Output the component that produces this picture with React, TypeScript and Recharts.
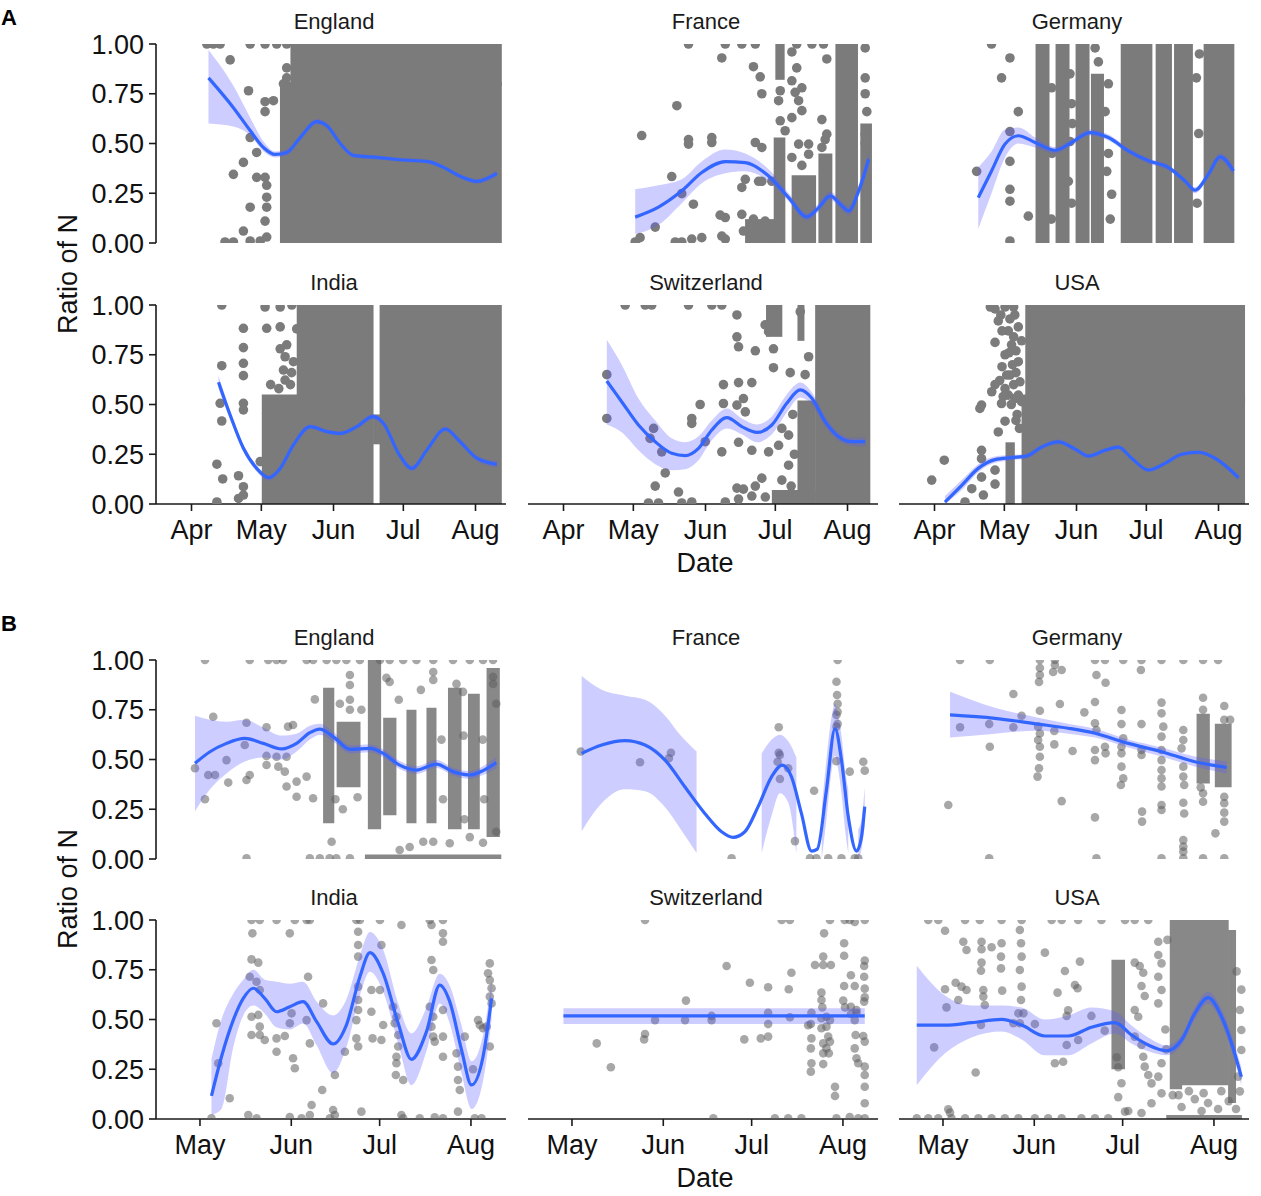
import React from "react";
import { ComposedChart, XAxis, YAxis, Scatter, Line, Area, ReferenceArea } from "recharts";

const FONT = '"Liberation Sans", Arial, Helvetica, sans-serif';

// x values are day of year 2020 (Apr 1 = 92, May 1 = 122, Jun 1 = 153, Jul 1 = 183, Aug 1 = 214)
const ticksA = [92, 122, 153, 183, 214];
const namesA = ["Apr", "May", "Jun", "Jul", "Aug"];
const ticksB = [122, 153, 183, 214];
const namesB = ["May", "Jun", "Jul", "Aug"];
const yTicks = [0, 0.25, 0.5, 0.75, 1];

type Pt = [number, number];
type BandPt = [number, number, number];
type Block = [number, number, number, number];

// ---------- Panel A ----------
const engA_fit: Pt[] = [[99.3,0.83],[110.0,0.68],[117.2,0.565],[122.9,0.48],[127.9,0.445],[132.9,0.455],[138.7,0.53],[145.8,0.61],[150.1,0.59],[155.9,0.5],[161.6,0.44],[171.6,0.43],[183.1,0.417],[193.1,0.41],[200.3,0.38],[207.4,0.335],[214.6,0.31],[223.2,0.35]];
const engA_band: BandPt[][] = [[[99.3,0.6,0.97],[110.0,0.585,0.79],[117.2,0.54,0.63],[122.9,0.46,0.51],[127.9,0.43,0.46],[132.9,0.44,0.47],[138.7,0.515,0.545],[145.8,0.597,0.623],[150.1,0.577,0.603],[155.9,0.49,0.51],[161.6,0.43,0.45],[171.6,0.42,0.44],[183.1,0.407,0.427],[193.1,0.4,0.42],[200.3,0.37,0.39],[207.4,0.324,0.346],[214.6,0.298,0.322],[223.2,0.335,0.365]]];
const engA_pts: Pt[] = [[98.6,1],[101.4,1],[104.3,1],[117.2,1],[123.6,1],[128.6,1],[132.9,1],[108.6,0.92],[116.5,0.765],[123.6,0.71],[127.2,0.715],[123.6,0.66],[132.9,0.88],[132.9,0.83],[137.2,0.95],[131.5,0.8],[117.2,0.53],[120.0,0.455],[114.3,0.405],[110.0,0.345],[120.0,0.33],[123.6,0.33],[124.3,0.23],[117.2,0.18],[123.6,0.11],[114.3,0.06],[106.4,0.005],[110.0,0.005],[117.2,0.01],[121.5,0.01],[124.3,0.03],[124.3,0.18],[124.3,0.29]];
const engA_dense: Block[] = [[130.0,225.3,0,0.81],[134.5,225.3,0.79,1]];

const fraA_fit: Pt[] = [[122.8,0.13],[132.8,0.18],[142.8,0.262],[151.4,0.354],[161.5,0.409],[170.1,0.404],[180.1,0.337],[188.7,0.228],[196.6,0.131],[201.6,0.178],[206.6,0.237],[210.9,0.195],[214.5,0.161],[218.8,0.262],[223.1,0.421]];
const fraA_band: BandPt[][] = [[[122.8,0.045,0.27],[132.8,0.09,0.29],[142.8,0.2,0.32],[151.4,0.3,0.41],[161.5,0.35,0.47],[170.1,0.36,0.45],[180.1,0.31,0.37],[188.7,0.21,0.25],[196.6,0.113,0.15],[201.6,0.158,0.198],[206.6,0.217,0.257],[210.9,0.175,0.215],[214.5,0.14,0.185],[218.8,0.235,0.29],[223.1,0.38,0.46]]];
const fraA_pts: Pt[] = [[145.7,1],[161.5,1],[168.6,1],[174.4,1],[160.0,0.93],[173.6,0.886],[176.5,0.835],[177.2,0.75],[140.7,0.69],[125.6,0.54],[145.7,0.52],[145.7,0.497],[155.7,0.53],[155.7,0.505],[174.4,0.505],[177.2,0.48],[138.5,0.334],[142.8,0.248],[147.8,0.195],[168.6,0.279],[170.1,0.32],[177.2,0.31],[159.3,0.14],[161.5,0.128],[168.6,0.144],[131.4,0.08],[124.9,0.027],[122.8,0.005],[140.0,0.005],[142.8,0.005],[147.1,0.02],[151.4,0.027],[160.0,0.035],[161.5,0.02],[169.3,0.06],[173.6,0.12],[190.1,0.96],[192.2,0.88],[190.1,0.815],[191.5,0.757],[194.4,0.78],[193.0,0.715],[194.4,0.665],[190.1,0.63],[197.3,0.497],[193.0,0.497],[190.1,0.43],[197.3,0.446],[194.4,0.39],[198.7,1],[192.2,1],[203.7,1],[205.1,0.925],[203.0,0.62],[204.4,0.52],[203.0,0.48],[205.1,0.547],[221.6,0.98],[221.6,0.83],[221.6,0.75],[222.3,0.66],[221.6,0.547],[221.6,0.5],[184.4,0.715],[185.1,0.765],[185.1,0.614],[187.2,0.564],[175.8,0.31],[181.5,0.31],[178.6,0.11]];
const fraA_dense: Block[] = [[182.3,187.3,0,0.53],[183.0,187.0,0.82,1],[190.0,200.5,0,0.34],[201.5,207.5,0,0.45],[208.8,218.5,0,1],[219.5,224.5,0,0.6],[170.0,182.5,0,0.12]];

const gerA_fit: Pt[] = [[110.8,0.228],[116.5,0.362],[122.3,0.497],[128.0,0.539],[135.2,0.505],[143.8,0.466],[150.9,0.505],[158.8,0.555],[166.7,0.53],[175.3,0.463],[183.9,0.413],[192.5,0.379],[199.6,0.312],[203.9,0.265],[209.7,0.346],[214.7,0.433],[220.4,0.362]];
const gerA_band: BandPt[][] = [[[110.8,0.07,0.38],[116.5,0.25,0.46],[122.3,0.43,0.57],[128.0,0.5,0.58],[135.2,0.48,0.53],[143.8,0.45,0.482],[150.9,0.49,0.52],[158.8,0.54,0.57],[166.7,0.515,0.545],[175.3,0.45,0.476],[183.9,0.4,0.426],[192.5,0.366,0.392],[199.6,0.298,0.326],[203.9,0.25,0.28],[209.7,0.33,0.362],[214.7,0.415,0.451],[220.4,0.34,0.384]]];
const gerA_pts: Pt[] = [[116.5,1],[124.4,0.93],[120.8,0.83],[128.0,0.66],[124.4,0.56],[110.1,0.36],[124.4,0.41],[124.4,0.27],[124.4,0.21],[132.3,0.135],[124.4,0.01],[150.2,0.85],[150.9,0.7],[150.2,0.51],[149.5,0.31],[150.9,0.2],[151.2,0.6],[142.3,0.78],[142.5,0.45],[142.2,0.12],[161.0,0.98],[162.4,0.91],[166.7,0.8],[165.3,0.66],[166.7,0.45],[166.0,0.36],[168.1,0.245],[167.5,0.12],[204.5,0.83],[205.5,0.55],[204.8,0.2],[205.8,0.95]];
const gerA_dense: Block[] = [[135.4,141.4,0,1],[144.0,150.0,0,1],[152.6,158.6,0,1],[159.2,164.8,0,0.85],[172.0,185.6,0,1],[187.0,194.0,0,1],[194.9,203.0,0,1],[207.6,220.8,0,1]];

const indA_fit: Pt[] = [[103.6,0.612],[108.6,0.447],[114.3,0.28],[120.0,0.179],[125.1,0.132],[130.1,0.179],[135.8,0.297],[143.0,0.389],[150.1,0.364],[155.9,0.355],[163.0,0.389],[169.9,0.439],[174.5,0.405],[180.9,0.255],[186.7,0.179],[193.1,0.271],[201.0,0.377],[207.4,0.313],[214.6,0.23],[223.2,0.199]];
const indA_band: BandPt[][] = [[[103.6,0.58,0.645],[108.6,0.425,0.47],[114.3,0.262,0.298],[120.0,0.163,0.195],[125.1,0.118,0.146],[130.1,0.166,0.192],[135.8,0.285,0.309],[143.0,0.378,0.4],[150.1,0.353,0.375],[155.9,0.344,0.366],[163.0,0.378,0.4],[169.9,0.426,0.452],[174.5,0.392,0.418],[180.9,0.243,0.267],[186.7,0.166,0.192],[193.1,0.259,0.283],[201.0,0.364,0.39],[207.4,0.301,0.325],[214.6,0.217,0.243],[223.2,0.182,0.216]]];
const indA_pts: Pt[] = [[105.0,1],[123.6,0.99],[130.1,0.99],[135.1,1],[114.3,0.883],[124.3,0.883],[130.1,0.89],[114.3,0.786],[114.3,0.707],[114.3,0.645],[130.1,0.78],[132.2,0.74],[105.0,0.695],[131.5,0.673],[132.2,0.623],[114.3,0.506],[114.3,0.473],[104.3,0.506],[105.0,0.417],[124.3,0.456],[121.5,0.213],[102.9,0.2],[105.4,0.126],[112.2,0.142],[114.3,0.087],[114.3,0.045],[112.2,0.028],[102.9,0.01],[135.8,0.715],[132.9,0.8],[137.2,0.88],[126.0,0.6],[129.5,0.58],[134.5,0.6],[135.0,0.66]];
const indA_dense: Block[] = [[122.2,137.4,0,0.55],[137.2,170.2,0,1],[172.8,225.3,0,1],[170.0,173.0,0.3,0.45]];

const swiA_fit: Pt[] = [[110.6,0.618],[117.0,0.514],[124.2,0.397],[131.4,0.313],[138.5,0.255],[144.3,0.243],[150.0,0.28],[155.7,0.372],[162.2,0.434],[168.6,0.389],[175.1,0.36],[181.5,0.397],[187.9,0.506],[193.7,0.573],[198.7,0.531],[204.4,0.414],[210.2,0.338],[215.9,0.313],[221.6,0.313]];
const swiA_band: BandPt[][] = [[[110.6,0.4,0.825],[117.0,0.36,0.7],[124.2,0.27,0.53],[131.4,0.2,0.42],[138.5,0.17,0.33],[144.3,0.175,0.31],[150.0,0.22,0.34],[155.7,0.32,0.42],[162.2,0.38,0.48],[168.6,0.35,0.43],[175.1,0.31,0.4],[181.5,0.35,0.44],[187.9,0.46,0.55],[193.7,0.535,0.61],[198.7,0.5,0.56],[204.4,0.39,0.44],[210.2,0.318,0.358],[215.9,0.293,0.333],[221.6,0.29,0.336]]];
const swiA_pts: Pt[] = [[118.5,1],[127.1,1],[129.9,1],[145.7,1],[155.7,1],[160.0,1],[166.5,0.95],[166.5,0.84],[167.2,0.79],[174.4,0.77],[182.2,0.78],[182.2,0.685],[189.4,0.66],[195.8,0.65],[197.3,0.74],[160.7,0.6],[167.2,0.61],[172.9,0.61],[150.7,0.5],[160.7,0.505],[166.5,0.497],[169.3,0.53],[170.1,0.463],[147.1,0.43],[147.1,0.405],[110.6,0.65],[110.6,0.43],[130.7,0.38],[129.2,0.33],[134.2,0.262],[135.7,0.156],[152.9,0.313],[160.0,0.262],[167.2,0.31],[172.9,0.27],[180.1,0.262],[184.4,0.295],[185.8,0.38],[188.7,0.346],[177.2,0.13],[185.8,0.12],[188.7,0.195],[131.4,0.09],[141.4,0.06],[166.5,0.08],[169.3,0.075],[174.4,0.09],[128.5,0.005],[132.8,0.005],[142.8,0.005],[147.1,0.01],[161.5,0.01],[167.2,0.025],[172.9,0.04],[178.7,0.035],[181.5,0.966],[178.6,0.9],[180.1,0.866],[193.7,0.966],[190.5,0.45],[191.2,0.25],[189.8,0.09]];
const swiA_dense: Block[] = [[200.1,223.8,0,1],[192.5,200.3,0,0.52],[179.0,186.0,0.84,1],[192.5,195.5,0.82,1],[181.5,200.3,0,0.07]];

const usaA_fit: Pt[] = [[96.5,0.01],[103.7,0.094],[110.8,0.179],[118.0,0.223],[125.1,0.233],[131.6,0.241],[138.0,0.286],[145.2,0.312],[152.4,0.276],[158.1,0.241],[165.3,0.27],[171.0,0.286],[176.7,0.23],[183.9,0.171],[191.0,0.204],[198.2,0.25],[205.4,0.26],[212.5,0.23],[222.6,0.132]];
const usaA_band: BandPt[][] = [[[96.5,0,0.04],[103.7,0.07,0.12],[110.8,0.16,0.2],[118.0,0.207,0.239],[125.1,0.22,0.246],[131.6,0.229,0.253],[138.0,0.274,0.298],[145.2,0.3,0.324],[152.4,0.264,0.288],[158.1,0.23,0.252],[165.3,0.259,0.281],[171.0,0.275,0.297],[176.7,0.22,0.24],[183.9,0.161,0.181],[191.0,0.194,0.214],[198.2,0.24,0.26],[205.4,0.25,0.27],[212.5,0.22,0.24],[222.6,0.118,0.146]]];
const usaA_pts: Pt[] = [[90.8,0.12],[96.2,0.22],[118.0,0.812],[116.6,0.564],[112.2,0.497],[111.5,0.48],[120.8,0.505],[122.3,0.416],[119.4,0.362],[112.2,0.27],[112.2,0.228],[112.2,0.135],[113.0,0.045],[118.0,0.17],[118.0,0.1],[108.0,0.077],[105.1,0.01],[123.0,0.648],[123.7,0.547],[128.0,0.547],[118.0,0.98],[122.3,0.99],[119.4,0.92],[124.4,0.93],[123.7,0.87],[128.0,0.89],[125.1,0.8],[129.4,0.82],[122.3,0.75],[128.0,0.715],[124.4,0.648],[128.7,0.614],[129.4,0.514],[122.3,0.58],[116.0,0.99],[126.0,0.99],[120.5,0.95],[126.5,0.95],[121.0,0.87],[126.0,0.84],[127.0,0.77],[124.0,0.76],[125.5,0.7],[121.0,0.69],[127.0,0.66],[126.0,0.6],[120.0,0.62],[126.5,0.53],[118.0,0.6],[121.5,0.54],[125.0,0.5],[127.5,0.45],[128.5,0.38],[127.0,0.42]];
const usaA_dense: Block[] = [[129.4,225.4,0,0.55],[131.0,225.4,0.5,1],[122.5,126.5,0,0.31]];

// ---------- Panel B ----------
const engB_fit: Pt[] = [[120.3,0.481],[125.4,0.539],[131.0,0.581],[137.2,0.606],[143.5,0.581],[149.7,0.553],[154.8,0.581],[159.3,0.635],[162.7,0.653],[167.2,0.615],[172.9,0.551],[179.7,0.556],[184.2,0.531],[189.8,0.472],[195.5,0.447],[202.3,0.477],[207.9,0.439],[213.6,0.422],[218.1,0.444],[222.6,0.484]];
const engB_band: BandPt[][] = [[[120.3,0.24,0.72],[125.4,0.35,0.7],[131.0,0.43,0.69],[137.2,0.49,0.7],[143.5,0.51,0.66],[149.7,0.5,0.62],[154.8,0.54,0.63],[159.3,0.6,0.67],[162.7,0.625,0.68],[167.2,0.59,0.64],[172.9,0.53,0.572],[179.7,0.536,0.576],[184.2,0.511,0.551],[189.8,0.452,0.492],[195.5,0.427,0.467],[202.3,0.457,0.497],[207.9,0.419,0.459],[213.6,0.402,0.442],[218.1,0.422,0.466],[222.6,0.455,0.513]]];
const engB_pts: Pt[] = [[123.7,1],[138.9,1],[145.2,1],[148.0,1],[150.2,1],[158.2,1],[160.4,1],[165.0,1],[168.3,1],[171.7,1],[176.3,1],[183.1,1],[186.4,1],[191.0,1],[195.5,1],[201.2,1],[207.9,1],[213.6,1],[218.1,1],[221.5,1],[126.5,0.715],[137.8,0.685],[131.0,0.497],[137.2,0.573],[144.6,0.662],[144.6,0.518],[144.6,0.472],[148.0,0.514],[151.4,0.514],[151.9,0.665],[153.6,0.673],[120.3,0.456],[124.8,0.422],[127.1,0.422],[123.7,0.3],[131.6,0.384],[137.8,0.397],[138.9,0.422],[148.6,0.464],[150.8,0.439],[151.4,0.364],[154.8,0.313],[160.4,0.305],[154.8,0.389],[158.2,0.414],[161.0,0.802],[172.9,0.925],[172.9,0.874],[172.9,0.8],[172.9,0.75],[166.7,0.087],[137.8,0.003],[159.3,0.003],[162.7,0.003],[166.0,0.003],[168.3,0.003],[172.9,0.003],[201.2,0.9],[201.2,0.94],[209.1,0.88],[211.3,0.84],[221.5,0.916],[221.5,0.88],[222.6,0.78],[197.8,0.087],[201.2,0.087],[189.8,0.045],[193.2,0.06],[206.8,0.079],[213.6,0.11],[218.1,0.082],[222.6,0.137],[186.4,0.89],[185.3,0.91],[168.0,0.3],[170.5,0.25],[175.5,0.31],[176.8,0.75],[169.5,0.78],[189.5,0.8],[197.0,0.85],[204.5,0.3],[211.8,0.2],[218.5,0.3],[204.0,0.6],[211.5,0.62],[218.0,0.6]];
const engB_dense: Block[] = [[163.8,167.6,0.18,0.86],[168.4,176.5,0.36,0.69],[179.0,183.5,0.15,1],[184.2,188.7,0.22,0.71],[192.1,195.5,0.18,0.75],[198.9,202.3,0.18,0.76],[206.2,210.8,0.15,0.86],[213.0,217.0,0.15,0.83],[219.3,223.8,0.11,0.96],[178.0,224.3,0,0.022]];

const fraB_fit: Pt[] = [[125.3,0.531],[132.1,0.573],[140.0,0.595],[146.8,0.573],[153.6,0.497],[160.3,0.363],[167.1,0.229],[172.8,0.137],[176.7,0.109],[180.7,0.137],[185.2,0.263],[189.8,0.414],[193.4,0.472],[196.5,0.414],[199.9,0.229],[203.3,0.04],[205.3,0.05],[208.4,0.347],[211.3,0.655],[213.5,0.497],[215.8,0.213],[218.6,0.04],[220.3,0.112],[221.4,0.263]];
const fraB_band: BandPt[][] = [
  [[125.3,0.14,0.92],[132.1,0.28,0.85],[140.0,0.35,0.82],[146.8,0.34,0.8],[153.6,0.26,0.72],[158.9,0.15,0.62],[164.3,0.03,0.54]],
  [[186.4,0.03,0.53],[189.8,0.22,0.6],[192.6,0.33,0.625],[195.5,0.28,0.59],[198.2,0.03,0.51]],
  [[206.8,0.0,0.25],[208.4,0.2,0.5],[210.2,0.45,0.72],[211.3,0.52,0.78],[212.4,0.45,0.72],[213.5,0.33,0.62],[214.7,0.15,0.45],[215.8,0.03,0.35]],
  [[219.2,0.0,0.15],[220.3,0.05,0.2],[221.4,0.17,0.36]],
];
const fraB_pts: Pt[] = [[125.0,0.54],[145.1,0.486],[155.6,0.534],[154.9,0.506],[176.2,0.003],[192.2,0.662],[192.2,0.534],[192.6,0.523],[191.8,0.489],[192.6,0.402],[195.4,0.456],[197.7,0.09],[204.2,0.343],[212.2,1],[211.8,0.891],[212.0,0.824],[212.2,0.78],[212.2,0.74],[211.8,0.724],[212.2,0.68],[211.8,0.665],[211.8,0.492],[216.3,0.439],[220.9,0.489],[221.4,0.444],[202.8,0.003],[205.0,0.003],[209.0,0.003],[213.5,0.003],[218.0,0.003],[219.2,0.003]];
const fraB_dense: Block[] = [];

const gerB_fit: Pt[] = [[124.4,0.724],[139.6,0.707],[154.3,0.678],[164.5,0.657],[173.6,0.632],[184.9,0.581],[196.2,0.539],[207.5,0.489],[218.3,0.46]];
const gerB_band: BandPt[][] = [[[124.4,0.61,0.84],[139.6,0.63,0.76],[154.3,0.645,0.71],[164.5,0.63,0.68],[173.6,0.61,0.655],[184.9,0.56,0.6],[196.2,0.515,0.56],[207.5,0.465,0.515],[218.3,0.43,0.49]]];
const gerB_pts: Pt[] = [[127.8,1],[137.9,1],[154.9,1],[160.0,1],[173.6,1],[177.0,1],[183.2,1],[189.4,1],[196.2,1],[203.6,1],[210.3,1],[215.4,1],[154.9,0.96],[154.9,0.925],[154.6,0.89],[160.0,0.975],[162.3,0.95],[159.4,0.94],[174.1,0.925],[177.2,0.886],[189.2,0.95],[145.9,0.829],[161.7,0.779],[173.6,0.789],[170.0,0.737],[182.6,0.749],[196.2,0.786],[210.3,0.81],[217.5,0.769],[154.9,0.745],[148.7,0.72],[127.8,0.662],[137.7,0.678],[145.9,0.662],[154.3,0.665],[154.9,0.631],[154.3,0.598],[159.8,0.643],[173.6,0.682],[174.1,0.648],[173.6,0.548],[173.6,0.497],[177.0,0.564],[177.2,0.531],[182.6,0.678],[183.2,0.606],[182.6,0.564],[182.6,0.531],[182.6,0.464],[183.2,0.405],[182.4,0.372],[189.4,0.678],[189.4,0.548],[189.4,0.523],[196.2,0.732],[196.8,0.665],[196.2,0.615],[196.2,0.548],[196.2,0.497],[196.2,0.447],[196.2,0.405],[196.2,0.364],[196.2,0.271],[196.2,0.246],[189.6,0.238],[189.6,0.188],[173.6,0.209],[162.3,0.291],[123.8,0.271],[137.9,0.564],[159.8,0.576],[166.0,0.543],[154.9,0.564],[154.9,0.514],[154.6,0.456],[154.1,0.414],[203.6,0.648],[203.6,0.598],[203.0,0.556],[203.6,0.464],[203.6,0.414],[203.9,0.372],[203.6,0.283],[203.9,0.229],[203.6,0.095],[203.6,0.062],[203.6,0.037],[214.5,0.129],[196.2,0.003],[203.6,0.003],[210.3,0.003],[217.5,0.003],[174.1,0.003],[137.7,0.003],[210.3,0.33],[210.3,0.288],[217.5,0.313],[217.5,0.28],[217.5,0.233],[217.5,0.188],[210.3,0.75],[209.5,0.36],[217.5,0.7],[219.5,0.7]];
const gerB_dense: Block[] = [[208.1,212.6,0.38,0.73],[214.3,220.0,0.36,0.68]];

const indB_fit: Pt[] = [[125.9,0.116],[129.3,0.313],[133.3,0.497],[136.7,0.606],[140.1,0.657],[144.0,0.606],[148.0,0.539],[152.5,0.564],[157.0,0.59],[161.6,0.489],[167.2,0.377],[171.7,0.472],[176.3,0.715],[179.7,0.836],[184.2,0.732],[189.3,0.481],[193.8,0.3],[198.9,0.439],[203.4,0.673],[206.8,0.59],[210.8,0.347],[214.2,0.171],[218.1,0.313],[221.0,0.606]];
const indB_band: BandPt[][] = [[[125.9,0.02,0.3],[129.3,0.05,0.5],[133.3,0.36,0.63],[136.7,0.52,0.7],[140.1,0.57,0.75],[144.0,0.53,0.7],[148.0,0.46,0.69],[152.5,0.45,0.68],[157.0,0.48,0.69],[161.6,0.37,0.59],[167.2,0.23,0.52],[171.7,0.36,0.6],[176.3,0.62,0.82],[179.7,0.74,0.94],[184.2,0.64,0.85],[189.3,0.38,0.58],[193.8,0.17,0.43],[198.9,0.34,0.56],[203.4,0.58,0.73],[206.8,0.48,0.67],[210.8,0.23,0.47],[214.2,0.05,0.29],[218.1,0.19,0.42],[221.0,0.5,0.7]]];
const indB_pts: Pt[] = [[139.5,1],[142.3,1],[148.0,1],[154.2,1],[158.2,1],[159.3,1],[175.1,1],[176.3,1],[183.1,1],[200.0,1],[204.5,1],[139.8,0.933],[152.5,0.933],[175.7,0.941],[190.4,0.975],[200.6,0.975],[204.5,0.933],[204.5,0.891],[175.7,0.874],[183.6,0.874],[139.5,0.802],[141.8,0.786],[158.7,0.715],[138.9,0.715],[141.2,0.69],[142.3,0.648],[175.7,0.816],[200.6,0.799],[201.2,0.749],[220.4,0.782],[219.8,0.732],[220.4,0.698],[221.0,0.657],[220.4,0.615],[221.0,0.581],[180.2,0.648],[183.1,0.648],[127.6,0.481],[128.2,0.28],[132.1,0.104],[139.5,0.514],[141.8,0.523],[142.3,0.464],[139.5,0.422],[142.3,0.422],[144.0,0.397],[148.0,0.405],[150.8,0.417],[148.0,0.338],[153.6,0.305],[154.2,0.255],[153.1,0.531],[152.5,0.481],[158.2,0.497],[163.8,0.581],[159.3,0.38],[171.2,0.338],[167.8,0.221],[163.5,0.146],[159.9,0.07],[167.2,0.045],[167.8,0.02],[176.8,0.037],[175.7,0.665],[175.7,0.598],[175.7,0.548],[175.1,0.497],[175.1,0.405],[175.7,0.364],[180.2,0.539],[180.6,0.405],[183.6,0.397],[184.2,0.472],[187.6,0.564],[188.7,0.514],[188.1,0.481],[189.3,0.422],[189.3,0.364],[188.7,0.313],[188.7,0.28],[188.5,0.221],[191.0,0.196],[200.0,0.564],[201.2,0.514],[200.6,0.464],[201.2,0.414],[201.7,0.389],[204.5,0.313],[204.5,0.414],[204.5,0.548],[209.1,0.33],[209.6,0.263],[209.6,0.196],[210.2,0.146],[211.9,0.414],[209.6,0.037],[214.7,0.25],[216.4,0.497],[217.0,0.472],[220.4,0.364],[218.1,0.456],[219.3,0.464],[138.4,0.02],[141.2,0.003],[152.5,0.01],[156.5,0.003],[159.3,0.02],[166.1,0.003],[190.4,0.02],[191.0,0.003],[196.6,0.003],[201.7,0.008],[204.5,0.003],[215.3,0.003],[217.6,0.003],[125.9,0.003]];
const indB_dense: Block[] = [];

const swiB_fit: Pt[] = [[119.1,0.518],[170.0,0.518],[221.4,0.518]];
const swiB_band: BandPt[][] = [[[119.1,0.477,0.556],[170.0,0.477,0.556],[221.4,0.477,0.556]]];
const swiB_pts: Pt[] = [[146.8,1],[193.2,1],[196.0,1],[209.6,1],[214.6,1],[216.3,1],[218.0,0.99],[221.4,1],[207.6,0.933],[214.4,0.883],[214.4,0.82],[207.3,0.816],[204.5,0.774],[207.3,0.774],[209.9,0.774],[221.4,0.796],[221.2,0.769],[221.2,0.715],[174.5,0.769],[196.5,0.735],[216.7,0.722],[182.4,0.685],[188.6,0.662],[195.6,0.652],[214.4,0.668],[218.0,0.668],[221.4,0.655],[221.4,0.611],[221.2,0.59],[206.7,0.635],[206.7,0.598],[207.0,0.561],[160.7,0.595],[214.1,0.595],[214.7,0.561],[216.7,0.564],[218.6,0.548],[150.2,0.497],[160.4,0.497],[169.4,0.518],[169.4,0.497],[188.6,0.534],[188.6,0.477],[196.0,0.511],[203.3,0.534],[203.1,0.477],[202.2,0.471],[206.7,0.506],[208.4,0.514],[209.6,0.497],[208.4,0.464],[206.7,0.456],[216.7,0.528],[218.0,0.497],[218.6,0.531],[130.4,0.38],[146.8,0.427],[146.5,0.4],[135.2,0.26],[180.5,0.4],[186.1,0.405],[188.6,0.414],[203.3,0.405],[203.1,0.355],[203.3,0.28],[203.1,0.238],[207.3,0.38],[209.0,0.414],[209.6,0.389],[208.4,0.355],[209.2,0.33],[207.3,0.33],[207.3,0.276],[218.3,0.422],[220.9,0.417],[221.4,0.389],[218.0,0.355],[218.6,0.305],[219.2,0.28],[221.4,0.263],[221.4,0.221],[221.4,0.162],[221.4,0.079],[211.3,0.162],[211.3,0.116],[170.0,0.003],[190.9,0.003],[195.4,0.003],[199.9,0.003],[211.8,0.003],[216.3,0.01],[219.2,0.003],[221.4,0.003]];
const swiB_dense: Block[] = [];

const usaB_fit: Pt[] = [[113.1,0.472],[122.7,0.472],[131.7,0.484],[141.9,0.501],[148.7,0.472],[156.6,0.417],[164.5,0.417],[172.4,0.461],[180.4,0.484],[186.0,0.422],[191.7,0.372],[197.9,0.343],[203.0,0.397],[207.5,0.531],[212.0,0.61],[216.6,0.514],[220.0,0.38],[223.3,0.213]];
const usaB_band: BandPt[][] = [[[113.1,0.17,0.77],[122.7,0.33,0.62],[131.7,0.41,0.57],[141.9,0.44,0.57],[148.7,0.4,0.56],[156.6,0.32,0.5],[164.5,0.32,0.52],[172.4,0.38,0.56],[180.4,0.43,0.54],[186.0,0.38,0.47],[191.7,0.34,0.41],[197.9,0.32,0.37],[203.0,0.37,0.42],[207.5,0.5,0.56],[212.0,0.58,0.64],[216.6,0.48,0.55],[220.0,0.34,0.42],[223.3,0.17,0.26]]];
const usaB_pts: Pt[] = [[117.0,1],[120.4,1],[129.5,1],[134.5,1],[141.9,1],[148.7,1],[158.9,1],[162.3,1],[167.9,1],[175.8,1],[183.8,1],[187.1,1],[191.7,1],[122.7,0.946],[128.9,0.891],[135.1,0.891],[130.0,0.849],[135.1,0.853],[138.5,0.863],[141.9,0.883],[141.7,0.816],[135.1,0.786],[134.9,0.745],[141.7,0.757],[156.6,0.836],[168.5,0.791],[163.4,0.744],[122.7,0.652],[126.3,0.685],[128.3,0.665],[130.0,0.648],[127.2,0.598],[135.7,0.648],[135.7,0.615],[136.2,0.573],[142.1,0.645],[123.2,0.561],[160.9,0.635],[166.8,0.673],[167.7,0.657],[134.9,0.472],[145.9,0.481],[147.6,0.531],[153.2,0.477],[164.0,0.518],[164.5,0.546],[172.4,0.518],[176.9,0.444],[164.0,0.372],[167.9,0.397],[119.0,0.36],[160.0,0.28],[162.8,0.288],[133.1,0.234],[123.8,0.049],[124.4,0.032],[113.1,0.003],[117.0,0.003],[120.4,0.003],[124.9,0.003],[129.5,0.003],[134.0,0.003],[138.5,0.003],[143.0,0.003],[147.6,0.003],[153.2,0.003],[157.7,0.003],[162.3,0.003],[169.0,0.003],[173.6,0.003],[178.1,0.003],[183.8,0.037],[189.4,0.03],[148.1,0.95],[148.5,0.883],[148.7,0.816],[148.1,0.749],[148.7,0.665],[148.5,0.598],[149.3,0.531],[148.1,0.481],[187.1,0.786],[188.8,0.769],[190.0,0.735],[189.4,0.668],[190.5,0.618],[187.1,0.548],[188.3,0.514],[187.1,0.414],[189.4,0.372],[190.0,0.313],[190.5,0.263],[191.7,0.221],[192.8,0.179],[192.8,0.079],[195.1,0.891],[195.1,0.824],[196.2,0.782],[195.1,0.715],[196.2,0.648],[195.1,0.581],[196.2,0.28],[195.1,0.213],[196.2,0.129],[221.7,0.742],[223.3,0.65],[222.8,0.548],[223.3,0.447],[223.3,0.347],[222.2,0.213],[222.8,0.139],[181.0,0.31],[181.5,0.26],[182.6,0.18],[181.5,0.11],[184.9,0.04],[200.0,0.12],[203.0,0.06],[207.5,0.1],[212.0,0.08],[215.4,0.05],[219.0,0.09],[221.5,0.05],[209.8,0.04],[197.5,0.45],[197.8,0.35],[198.2,0.9],[202.0,0.12],[205.5,0.14],[210.5,0.13],[216.5,0.14]];
const usaB_dense: Block[] = [[179.2,183.8,0.25,0.8],[199.0,203.2,0.15,1],[203.0,219.0,0.17,1],[218.8,221.5,0.08,0.95],[197.8,223.5,0,0.02]];

// ---------- layout ----------
const PW = 350;
const PH = 199;
const YW = 70;
const XH = 46;
const PAD = 16; // room above/below the plot for the 1.00 / 0.00 labels
const COL_LEFT = [156, 528, 899];
const domainA: [number, number] = [76.75, 227.1];
const domainB: [number, number] = [107.07, 225.9];

interface FacetDef {
  title: string;
  col: number;
  top: number;
  showX: boolean;
  faded: boolean;
  fit: Pt[];
  band: BandPt[][];
  pts: Pt[];
  dense: Block[];
}

const facetsA: FacetDef[] = [
  { title: "England", col: 0, top: 44, showX: false, faded: false, fit: engA_fit, band: engA_band, pts: engA_pts, dense: engA_dense },
  { title: "France", col: 1, top: 44, showX: false, faded: false, fit: fraA_fit, band: fraA_band, pts: fraA_pts, dense: fraA_dense },
  { title: "Germany", col: 2, top: 44, showX: false, faded: false, fit: gerA_fit, band: gerA_band, pts: gerA_pts, dense: gerA_dense },
  { title: "India", col: 0, top: 305, showX: true, faded: false, fit: indA_fit, band: indA_band, pts: indA_pts, dense: indA_dense },
  { title: "Switzerland", col: 1, top: 305, showX: true, faded: false, fit: swiA_fit, band: swiA_band, pts: swiA_pts, dense: swiA_dense },
  { title: "USA", col: 2, top: 305, showX: true, faded: false, fit: usaA_fit, band: usaA_band, pts: usaA_pts, dense: usaA_dense },
];
const facetsB: FacetDef[] = [
  { title: "England", col: 0, top: 660, showX: false, faded: true, fit: engB_fit, band: engB_band, pts: engB_pts, dense: engB_dense },
  { title: "France", col: 1, top: 660, showX: false, faded: true, fit: fraB_fit, band: fraB_band, pts: fraB_pts, dense: fraB_dense },
  { title: "Germany", col: 2, top: 660, showX: false, faded: true, fit: gerB_fit, band: gerB_band, pts: gerB_pts, dense: gerB_dense },
  { title: "India", col: 0, top: 920, showX: true, faded: true, fit: indB_fit, band: indB_band, pts: indB_pts, dense: indB_dense },
  { title: "Switzerland", col: 1, top: 920, showX: true, faded: true, fit: swiB_fit, band: swiB_band, pts: swiB_pts, dense: swiB_dense },
  { title: "USA", col: 2, top: 920, showX: true, faded: true, fit: usaB_fit, band: usaB_band, pts: usaB_pts, dense: usaB_dense },
];

const axisStroke = { stroke: "#1a1a1a", strokeWidth: 1.6 };
const tickStyle = { fontSize: 27, fill: "#111", fontFamily: FONT };

function Facet({ f, ticks, names, domain }: { f: FacetDef; ticks: number[]; names: string[]; domain: [number, number] }) {
  const showY = f.col === 0;
  const yw = showY ? YW : 0;
  const xh = f.showX ? XH : 0;
  const mb = f.showX ? 0 : PAD;
  const w = PW + yw;
  const h = PAD + PH + mb + xh;
  const margin = { top: PAD, right: 0, bottom: mb, left: 0 };
  const dotR = f.faded ? 4.3 : 4.8;
  const dotFill = f.faded ? "#5f5f5f" : "#7b7b7b";
  const dotOpacity = f.faded ? 0.55 : 1;
  const denseFill = f.faded ? "#888888" : "#7b7b7b";
  const pts = f.pts.map(([x, y]) => ({ x, y }));
  const fitData = f.fit.map(([x, fit]) => ({ x, fit }));
  const monthLabel = (v: number) => names[ticks.indexOf(v)] ?? "";

  const dot = (props: any) => (
    <circle cx={props.cx} cy={props.cy} r={dotR} fill={dotFill} fillOpacity={dotOpacity} />
  );

  return (
    <div style={{ position: "absolute", left: COL_LEFT[f.col] - yw, top: f.top - PAD, width: w, height: h }}>
      <div style={{ position: "absolute", left: 0, top: 0 }}>
        <ComposedChart width={w} height={h} margin={margin}>
          <XAxis
            type="number" dataKey="x" domain={domain} ticks={ticks} interval={0} allowDataOverflow
            hide={!f.showX} height={XH} tickFormatter={monthLabel} tick={tickStyle}
            tickSize={7} tickMargin={9} axisLine={axisStroke} tickLine={axisStroke}
          />
          <YAxis
            type="number" dataKey="y" domain={[0, 1]} ticks={yTicks} interval={0} allowDataOverflow
            hide={!showY} width={YW} tickFormatter={(v: number) => v.toFixed(2)} tick={tickStyle}
            tickSize={7} tickMargin={5} axisLine={axisStroke} tickLine={axisStroke}
          />
          {f.dense.map(([x1, x2, y1, y2], i) => (
            <ReferenceArea key={i} x1={x1} x2={x2} y1={y1} y2={y2} fill={denseFill} fillOpacity={1} stroke="none" />
          ))}
          <Scatter data={pts} shape={dot} isAnimationActive={false} />
        </ComposedChart>
      </div>
      <div style={{ position: "absolute", left: 0, top: 0 }}>
        <ComposedChart width={w} height={h} margin={margin}>
          <XAxis
            type="number" dataKey="x" domain={domain} allowDataOverflow hide={!f.showX} height={XH}
            tick={false} axisLine={false} tickLine={false}
          />
          <YAxis
            type="number" domain={[0, 1]} allowDataOverflow hide={!showY} width={YW}
            tick={false} axisLine={false} tickLine={false}
          />
          {f.band.map((seg, i) => (
            <Area
              key={i}
              data={seg.map(([x, lo, hi]) => ({ x, band: [lo, hi] }))}
              dataKey="band" type="monotone" stroke="none" fill="#5a5aff" fillOpacity={0.3}
              isAnimationActive={false} activeDot={false}
            />
          ))}
          <Line data={fitData} dataKey="fit" type="monotone" stroke="#3366ff" strokeWidth={3.2} dot={false} activeDot={false} isAnimationActive={false} />
        </ComposedChart>
      </div>
    </div>
  );
}

const textBase: React.CSSProperties = {
  position: "absolute",
  transform: "translate(-50%, -50%)",
  whiteSpace: "nowrap",
  lineHeight: 1,
  fontFamily: FONT,
};

function StripTitle({ f }: { f: FacetDef }) {
  return (
    <div style={{ ...textBase, left: COL_LEFT[f.col] + 178, top: f.top - 22, fontSize: 22, color: "#1a1a1a" }}>
      {f.title}
    </div>
  );
}

export default function App() {
  return (
    <div style={{ position: "absolute", left: 0, top: 0, width: 1261, height: 1196, background: "#fff", fontFamily: FONT }}>
      <div style={{ position: "absolute", left: 1, top: 7, fontSize: 22, fontWeight: "bold", lineHeight: 1, fontFamily: FONT }}>A</div>
      <div style={{ position: "absolute", left: 1, top: 613, fontSize: 22, fontWeight: "bold", lineHeight: 1, fontFamily: FONT }}>B</div>

      {facetsA.map((f, i) => (
        <Facet key={"a" + i} f={f} ticks={ticksA} names={namesA} domain={domainA} />
      ))}
      {facetsB.map((f, i) => (
        <Facet key={"b" + i} f={f} ticks={ticksB} names={namesB} domain={domainB} />
      ))}
      {facetsA.concat(facetsB).map((f, i) => (
        <StripTitle key={"t" + i} f={f} />
      ))}

      <div style={{ ...textBase, left: 68, top: 274, fontSize: 27, color: "#111", transform: "translate(-50%, -50%) rotate(-90deg)" }}>Ratio of N</div>
      <div style={{ ...textBase, left: 68, top: 889, fontSize: 27, color: "#111", transform: "translate(-50%, -50%) rotate(-90deg)" }}>Ratio of N</div>
      <div style={{ ...textBase, left: 705, top: 563, fontSize: 27, color: "#111" }}>Date</div>
      <div style={{ ...textBase, left: 705, top: 1178, fontSize: 27, color: "#111" }}>Date</div>
    </div>
  );
}
